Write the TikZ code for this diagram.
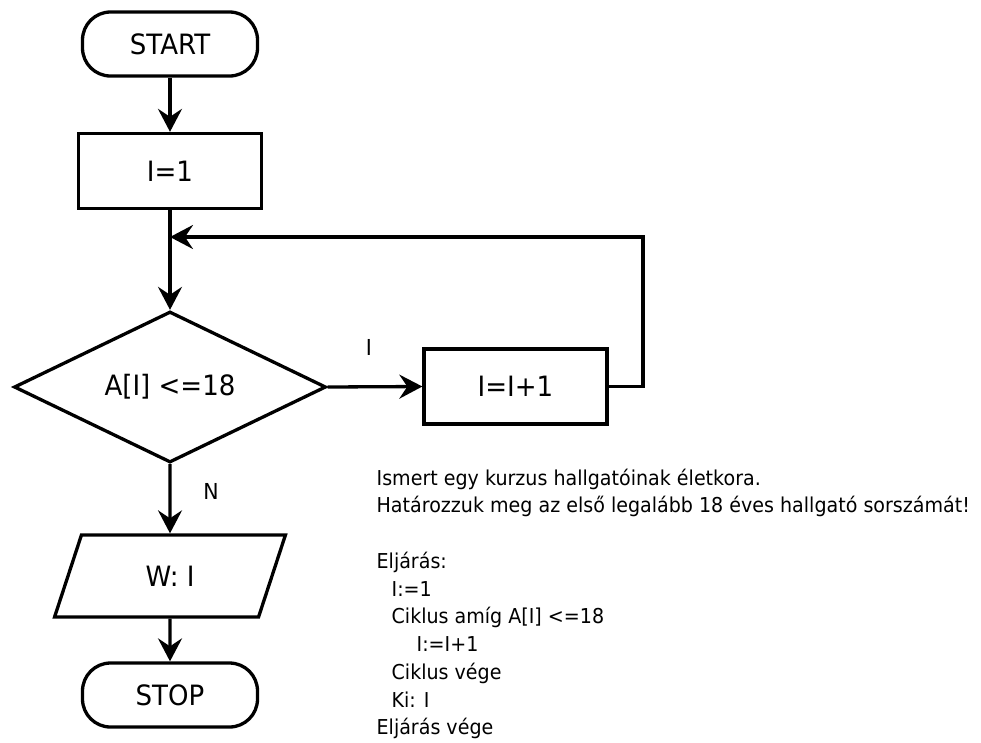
\documentclass[tikz,border=0pt]{standalone}
\usepackage{fontspec}
\setmainfont{DejaVu Sans}[FakeStretch=0.93]
\usetikzlibrary{shapes.geometric,arrows.meta}

\begin{document}
\begin{tikzpicture}[x=1pt,y=-1pt,
    line width=3.3pt,
    boxtext/.style={font=\fontsize{28}{32}\selectfont},
    terminal/.style={boxtext,draw,rectangle,rounded corners=28pt,
        minimum width=175pt,minimum height=64pt,inner sep=0pt},
    process/.style={boxtext,draw,rectangle,
        minimum width=183pt,minimum height=75pt,inner sep=0pt},
    decision/.style={boxtext,draw,diamond,aspect=2.08,
        minimum width=312pt,minimum height=151pt,inner sep=0pt},
    io/.style={boxtext,draw,trapezium,trapezium left angle=70,
        trapezium right angle=110,trapezium stretches=true,
        minimum width=232pt,minimum height=82pt,inner sep=0pt},
    flow/.style={-{Stealth[length=23pt,width=24pt,inset=8pt]}},
    branch/.style={font=\fontsize{22}{26}\selectfont},
    note/.style={font=\fontsize{20.5}{24}\selectfont,anchor=base west,inner sep=0pt}
  ]
  \useasboundingbox (0,0) rectangle (981,742);

  % flowchart nodes
  \node[terminal] (start) at (170,44)  {START};
  \node[process]  (init)  at (170,171) {I=1};
  \node[decision] (cond)  at (170,387) {A[I] <=18};
  \node[process]  (inc)   at (515.5,386.5) {I=I+1};
  \node[io]       (out)   at (170,576) {W: I};
  \node[terminal] (stop)  at (170,695) {STOP};

  % loop-back points
  \coordinate (join)   at (170,237);
  \coordinate (corner) at (643,237);

  % connectors
  \draw[flow] (start) -- (init);
  \draw[flow] (init) -- (cond);
  \draw[flow] (cond.east) -- (inc.west);
  \draw[flow] (inc.east) -| (corner) -- (join);
  \draw[flow] (cond.south) -- (out.north);
  \draw[flow] (out) -- (stop);

  % branch labels
  \node[branch] (yes) at (369,347) {I};
  \node[branch] (no)  at (211,491) {N};

  % task description and algorithm
  \node[note] (t1) at (375,485)    {Ismert egy kurzus hallgatóinak életkora.};
  \node[note] (t2) at (375,512.75) {Határozzuk meg az első legalább 18 éves hallgató sorszámát!};
  \node[note] (t3) at (375,568.25) {Eljárás:};
  \node[note] (t4) at (390,596)    {I:=1};
  \node[note] (t5) at (390,623.75) {Ciklus amíg A[I] <=18};
  \node[note] (t6) at (415,651.5)  {I:=I+1};
  \node[note] (t7) at (390,679.25) {Ciklus vége};
  \node[note] (t8) at (390,707)    {Ki: I};
  \node[note] (t9) at (375,734.75) {Eljárás vége};
\end{tikzpicture}
\end{document}
